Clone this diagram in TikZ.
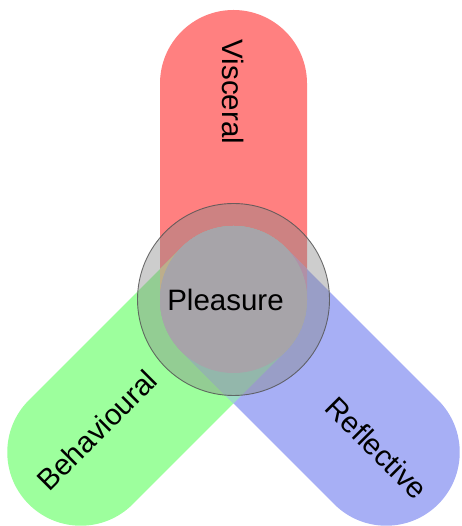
\documentclass[tikz,border=0pt]{standalone}
\usepackage{fontspec}
\setmainfont{Liberation Sans}
\definecolor{redc}{RGB}{255,128,128}
\definecolor{greenc}{RGB}{157,255,157}
\definecolor{bluec}{RGB}{167,175,245}
\definecolor{rgc}{RGB}{229,203,144}
\definecolor{rbc}{RGB}{208,152,190}
\definecolor{gbc}{RGB}{157,218,198}
\definecolor{allc}{RGB}{191,185,195}
\definecolor{ringfill}{RGB}{134,134,134}
\definecolor{ringdraw}{RGB}{85,85,85}
\newcommand\stadshape{(0,-73.5) -- (216,-73.5) arc[start angle=-90,end angle=90,radius=73.5] -- (0,73.5) arc[start angle=90,end angle=270,radius=73.5] -- cycle}
\tikzset{
  barR/.style={shift={(233.5,226.5)},rotate=90},
  barG/.style={shift={(233.5,226.5)},rotate=225},
  barB/.style={shift={(233.5,226.5)},rotate=-45},
  label/.style={font=\fontsize{29.5}{34}\selectfont, inner sep=0pt},
  hub/.style={circle, minimum size=192pt, inner sep=0pt, fill=ringfill, fill opacity=0.41, draw=ringdraw, draw opacity=0.85, line width=0.9pt}
}
\begin{document}
\begin{tikzpicture}[x=1pt,y=1pt]
\useasboundingbox (0,0) rectangle (461,526);
\coordinate (C) at (233.5,226.5);
% bars
\fill[redc,barR] \stadshape;
\fill[greenc,barG] \stadshape;
\fill[bluec,barB] \stadshape;
% overlaps
\begin{scope}
  \clip[barR] \stadshape;
  \fill[rgc,barG] \stadshape;
  \fill[rbc,barB] \stadshape;
\end{scope}
\begin{scope}
  \clip[barG] \stadshape;
  \fill[gbc,barB] \stadshape;
\end{scope}
\fill[allc] (C) circle[radius=73.5];
% hub
\node[hub] (pleasure) at (C) {};
\node[label] (pleasuretext) at (225.5,226.5) {Pleasure};
% labels
\node[label,rotate=-90] (visceral) at (233.5,434) {Visceral};
\node[label,rotate=45] (behavioural) at (97,96) {Behavioural};
\node[label,rotate=-45] (reflective) at (377,78) {Reflective};
\end{tikzpicture}
\end{document}
